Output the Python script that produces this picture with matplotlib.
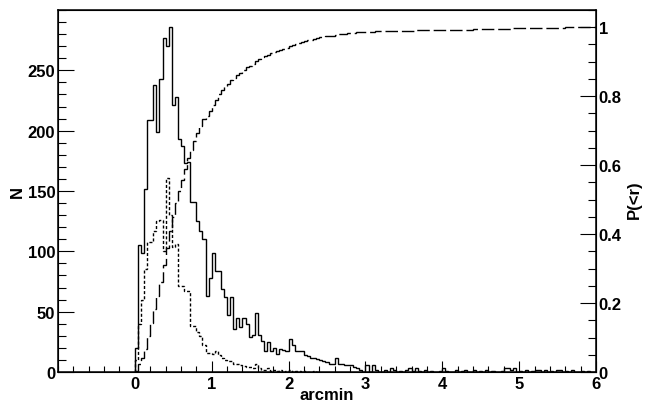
import numpy as np
import matplotlib.pyplot as plt

plt.rcParams['font.family'] = ['Liberation Sans', 'DejaVu Sans']
plt.rcParams['font.weight'] = 'bold'

# histogram bins: 0.04 arcmin wide
edges_all = np.linspace(0, 6, 151)
edges_dot = np.linspace(0, 2.4, 61)

# main distribution (solid)
solid_counts = [
    20, 105, 99, 152, 209, 209, 238, 199, 243, 277,
    270, 286, 221, 228, 193, 187, 173, 174, 141, 141,
    125, 117, 110, 63, 78, 99, 84, 84, 69, 62,
    47, 62, 36, 45, 37, 45, 40, 29, 31, 49,
    31, 26, 17, 25, 17, 20, 15, 19, 18, 17,
    27, 22, 17, 17, 17, 14, 13, 12, 12, 11,
    10, 9, 8, 7, 7, 12, 7, 7, 6, 6,
    6, 4, 3, 2, 0, 6, 0, 6, 2, 0,
    0, 2, 0, 3, 2, 0, 1, 0, 2, 3,
    1, 3, 1, 0, 2, 0, 1, 0, 0, 1,
    3, 1, 0, 0, 2, 0, 1, 2, 0, 0,
    2, 0, 1, 0, 2, 0, 1, 0, 0, 1,
    3, 3, 2, 3, 0, 1, 0, 2, 0, 1,
    2, 2, 0, 2, 0, 1, 0, 2, 2, 0,
    1, 0, 2, 0, 0, 1, 0, 1, 0, 0,
]

# second distribution (dashed)
dotted_counts = [
    10, 40, 60, 85, 108, 108, 117, 125, 126, 100,
    161, 130, 104, 106, 71, 71, 67, 67, 38, 38,
    33, 30, 22, 16, 16, 15, 17, 14, 12, 10,
    9, 9, 7, 7, 6, 5, 4, 4, 3, 7,
    3, 2, 2, 3, 1, 2, 1, 2, 0, 1,
    2, 0, 1, 1, 0, 1, 0, 0, 1, 0,
]

# cumulative fraction P(<r) of the main distribution
cum = np.cumsum(solid_counts) / np.sum(solid_counts)

fig = plt.figure(figsize=(6.45, 4.10), dpi=100)
ax = fig.add_axes([58/645, 1 - 373/410, (596 - 58)/645, (373 - 11)/410])

ax.stairs(solid_counts, edges_all, baseline=0, color='black', lw=1.0)
ax.stairs(dotted_counts, edges_dot, baseline=0, color='black', lw=1.0,
          linestyle=(0, (2.2, 1.5)))

ax.set_xlim(-1, 6)
ax.set_ylim(0, 300)
ax.set_xticks(range(0, 7))
ax.set_xticks(np.arange(-1, 6.01, 0.2), minor=True)
ax.set_yticks(range(0, 251, 50))
ax.set_yticks(range(0, 301, 10), minor=True)
ax.tick_params(axis='x', which='major', direction='in', length=7.9, width=0.8,
               labelsize=12, pad=3, top=False)
ax.tick_params(axis='x', which='minor', direction='in', length=4, width=0.8, top=False)
ax.tick_params(axis='y', which='major', direction='in', length=11.5, width=0.8,
               labelsize=12, pad=2, right=False)
ax.tick_params(axis='y', which='minor', direction='in', length=5.8, width=0.8, right=False)
for s in ax.spines.values():
    s.set_linewidth(1.1)

ax2 = ax.twinx()
ax2.stairs(cum, edges_all, baseline=None, color='black', lw=1.0,
           linestyle=(0, (9, 2.8)))
ax2.set_ylim(0, 1.05)
ax2.set_yticks([0, 0.2, 0.4, 0.6, 0.8, 1.0])
ax2.set_yticklabels(['0', '0.2', '0.4', '0.6', '0.8', '1'])
ax2.set_yticks(np.arange(0, 1.051, 0.05), minor=True)
ax2.tick_params(axis='y', which='major', direction='in', length=11.5, width=0.8,
                labelsize=12, pad=2)
ax2.tick_params(axis='y', which='minor', direction='in', length=5.8, width=0.8)

fig.text(17/645, 1 - 192/410, 'N', rotation=90, ha='center', va='center', fontsize=12)
fig.text(327/645, 1 - 396/410, 'arcmin', ha='center', va='center', fontsize=12)
fig.text(634/645, 1 - 200/410, 'P(<r)', rotation=90, ha='center', va='center', fontsize=12)

fig.savefig('out.png', dpi=100)
